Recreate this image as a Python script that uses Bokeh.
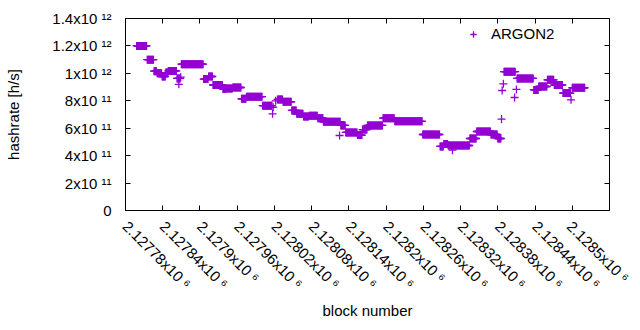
import math
import numpy as np
from bokeh.plotting import figure
from bokeh.models import (Range1d, LinearAxis, FixedTicker, CustomJSTickFormatter,
                          Legend, LegendItem)
from bokeh.embed import file_html
from bokeh.resources import INLINE

# ---- data: runs of blocks sharing the same hashrate estimate ----
run_start = [2127798, 2127815, 2127826, 2127831, 2127839, 2127845, 2127849, 2127863, 2127866, 2127869,
             2127870, 2127906, 2127914, 2127921, 2127937, 2127942, 2127953, 2127967, 2127975, 2128001,
             2128017, 2128018, 2128022, 2128025, 2128034, 2128048, 2128056, 2128067, 2128076, 2128090,
             2128099, 2128125, 2128127, 2128135, 2128154, 2128162, 2128170, 2128195, 2128214, 2128259,
             2128287, 2128293, 2128300, 2128307, 2128335, 2128346, 2128369, 2128380, 2128386, 2128387,
             2128389, 2128390, 2128407, 2128410, 2128411, 2128438, 2128446, 2128460, 2128471, 2128485,
             2128498, 2128500]
run_end = [2127814, 2127825, 2127830, 2127838, 2127844, 2127848, 2127862, 2127868, 2127866, 2127869,
           2127905, 2127913, 2127920, 2127936, 2127941, 2127952, 2127966, 2127974, 2128000, 2128016,
           2128017, 2128018, 2128022, 2128033, 2128047, 2128055, 2128066, 2128075, 2128089, 2128098,
           2128126, 2128125, 2128134, 2128153, 2128161, 2128169, 2128194, 2128213, 2128258, 2128286,
           2128292, 2128299, 2128334, 2128307, 2128345, 2128368, 2128379, 2128385, 2128386, 2128387,
           2128389, 2128408, 2128407, 2128410, 2128437, 2128445, 2128459, 2128470, 2128484, 2128497,
           2128498, 2128520]
run_value = [1.200e12, 1.100e12, 1.016e12, 1.000e12, 0.977e12, 1.006e12, 1.018e12, 0.963e12, 0.920e12, 0.972e12,
             1.067e12, 0.958e12, 0.977e12, 0.915e12, 0.886e12, 0.890e12, 0.897e12, 0.815e12, 0.830e12, 0.764e12,
             0.705e12, 0.753e12, 0.800e12, 0.810e12, 0.793e12, 0.730e12, 0.705e12, 0.686e12, 0.690e12, 0.673e12,
             0.647e12, 0.547e12, 0.620e12, 0.569e12, 0.550e12, 0.590e12, 0.620e12, 0.673e12, 0.650e12, 0.554e12,
             0.467e12, 0.485e12, 0.474e12, 0.440e12, 0.525e12, 0.576e12, 0.554e12, 0.525e12, 0.667e12, 0.875e12,
             0.924e12, 1.012e12, 0.824e12, 0.883e12, 0.963e12, 0.879e12, 0.904e12, 0.953e12, 0.915e12, 0.856e12,
             0.807e12, 0.895e12]

x_ticks = [2127780, 2127840, 2127900, 2127960, 2128020, 2128080, 2128140, 2128200,
           2128260, 2128320, 2128380, 2128440, 2128500, 2128560]
y_ticks = [0, 2e11, 4e11, 6e11, 8e11, 1e12, 1.2e12, 1.4e12]
series_label = "ARGON2"

blocks = np.concatenate([np.arange(s, e + 1) for s, e in zip(run_start, run_end)])
rates = np.concatenate([np.full(e - s + 1, v) for s, e, v in zip(run_start, run_end, run_value)])

FONT = "Liberation Sans"
COLOR = "#9400d3"

p = figure(width=632, height=322,
           x_range=Range1d(2127780, 2128560), y_range=Range1d(0, 1.4e12),
           output_backend="svg", toolbar_location=None,
           min_border_left=125, min_border_right=23, min_border_top=18, min_border_bottom=112,
           x_axis_label="block number", y_axis_label="hashrate [h/s]")
p.xgrid.visible = False
p.ygrid.visible = False
p.outline_line_color = "black"
p.outline_line_alpha = 1
p.background_fill_color = "white"

r = p.scatter(blocks, rates, marker="cross", size=8, line_width=1.3, color=COLOR)

sci_js = r"""
if (Math.abs(tick) < 1e-30) return "0";
const e = Math.floor(Math.log10(Math.abs(tick)) + 1e-9);
const m = parseFloat((tick / Math.pow(10, e)).toPrecision(6));
const sup = {"0":"\u2070","1":"\u00b9","2":"\u00b2","3":"\u00b3","4":"\u2074",
             "5":"\u2075","6":"\u2076","7":"\u2077","8":"\u2078","9":"\u2079","-":"\u207b"};
return m + "x10 " + String(e).split("").map(c => sup[c]).join("");
"""

# the last x tick sits on the right border; its label would run off the page
x_label_ticks = x_ticks[:-1]

for ax, ticks in ((p.xaxis[0], x_label_ticks), (p.yaxis[0], y_ticks)):
    ax.ticker = FixedTicker(ticks=ticks)
    ax.formatter = CustomJSTickFormatter(code=sci_js)
    ax.major_tick_in = 5
    ax.major_tick_out = 0
    ax.minor_tick_line_color = None
    ax.major_tick_line_color = "black"
    ax.axis_line_color = "black"
    ax.major_label_text_font = FONT
    ax.major_label_text_font_size = "15px"
    ax.major_label_text_color = "black"
    ax.axis_label_text_font = FONT
    ax.axis_label_text_font_size = "15px"
    ax.axis_label_text_font_style = "normal"
    ax.axis_label_text_color = "black"

p.xaxis[0].major_label_orientation = -math.pi / 4
p.xaxis[0].major_label_standoff = 13
p.xaxis[0].axis_label_standoff = 1
p.yaxis[0].major_label_standoff = 14
p.yaxis[0].axis_label_standoff = 27

# mirrored ticks on top and right (no labels)
def mirror(ticks):
    return LinearAxis(ticker=FixedTicker(ticks=ticks),
                      formatter=CustomJSTickFormatter(code="return '';"),
                      major_label_text_color=None, major_label_text_font_size="1px",
                      major_tick_in=5, major_tick_out=0, minor_tick_line_color=None,
                      axis_line_color=None, major_label_standoff=0,
                      major_tick_line_color="black")

p.add_layout(mirror(x_ticks), "above")
p.add_layout(mirror(y_ticks), "right")

legend = Legend(items=[LegendItem(label=series_label, renderers=[r])],
                location=(338, 168), border_line_color=None, background_fill_alpha=0,
                label_text_font=FONT, label_text_font_size="15px", label_text_color="black",
                glyph_width=20, glyph_height=16, padding=0, margin=0, label_standoff=8)
p.add_layout(legend)

with open("out.html", "w", encoding="utf-8") as f:
    f.write(file_html(p, INLINE))
